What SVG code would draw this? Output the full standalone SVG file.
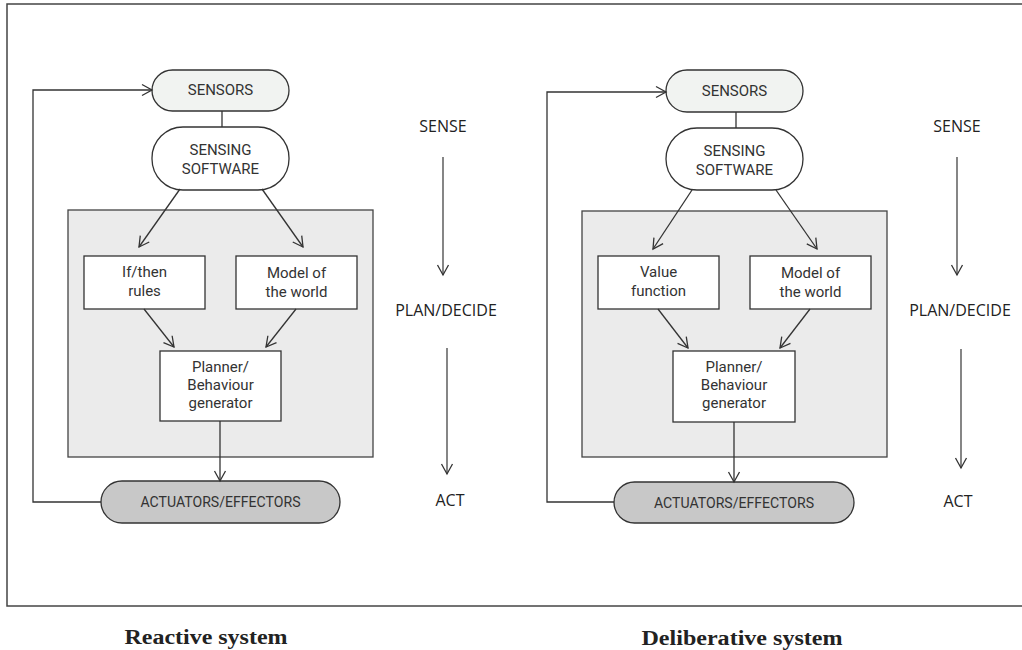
<svg xmlns="http://www.w3.org/2000/svg" width="1022" height="650" viewBox="0 0 1022 650">
<style>
.frame{fill:none;stroke:#444;stroke-width:1.5}
.panel{fill:#ebebeb;stroke:#444;stroke-width:1.3}
.box{fill:#fff;stroke:#333;stroke-width:1.3}
.sens{fill:#f1f3f1;stroke:#333;stroke-width:1.3}
.soft{fill:#fff;stroke:#333;stroke-width:1.3}
.act{fill:#c8c8c8;stroke:#333;stroke-width:1.3}
.nt{font-family:Roboto,"Liberation Sans",sans-serif;font-size:15px;fill:#333;text-anchor:middle}
.st{font-family:"Open Sans","Noto Sans",sans-serif;font-size:16px;fill:#222;text-anchor:middle}
.cap{font-family:"Liberation Serif",serif;font-size:20px;font-weight:bold;fill:#222;text-anchor:middle}
.c{fill:none;stroke:#333;stroke-width:1.3}
.s{fill:none;stroke:#444;stroke-width:1.3}
</style>
<defs>
<marker id="ah" markerUnits="userSpaceOnUse" markerWidth="14" markerHeight="14" viewBox="0 0 14 14" refX="11" refY="7" orient="auto">
<path d="M1,1.5 L11,7 L1,12.5" fill="none" stroke="#333" stroke-width="1.3"/>
</marker>
</defs>
<rect class="frame" x="7" y="4" width="1030" height="602"/>

<g id="left-panel"><rect class="panel" x="68" y="210" width="305" height="247"/></g>
<g id="left-sensors"><rect class="sens" x="152" y="70" width="137" height="41" rx="20.5"/><text class="nt" x="220.5" y="95">SENSORS</text></g>
<g id="left-software"><rect class="soft" x="152" y="127" width="137" height="63" rx="31"/><text class="nt" x="220.5" y="155">SENSING</text><text class="nt" x="220.5" y="174">SOFTWARE</text></g>
<g id="left-rules"><rect class="box" x="84" y="256" width="121" height="53"/><text class="nt" x="144.5" y="277">If/then</text><text class="nt" x="144.5" y="296">rules</text></g>
<g id="left-model"><rect class="box" x="236" y="256" width="121" height="53"/><text class="nt" x="296.5" y="278">Model of</text><text class="nt" x="296.5" y="297">the world</text></g>
<g id="left-planner"><rect class="box" x="160" y="351" width="121" height="70"/><text class="nt" x="220.5" y="372">Planner/</text><text class="nt" x="220.5" y="390">Behaviour</text><text class="nt" x="220.5" y="408">generator</text></g>
<g id="left-actuators"><rect class="act" x="101" y="481" width="239" height="42" rx="21"/><text class="nt" x="220.5" y="507" textLength="160" lengthAdjust="spacingAndGlyphs">ACTUATORS/EFFECTORS</text></g>

<g id="right-panel"><rect class="panel" x="582" y="211" width="305" height="246"/></g>
<g id="right-sensors"><rect class="sens" x="666" y="70" width="137" height="42" rx="21"/><text class="nt" x="734.5" y="96">SENSORS</text></g>
<g id="right-software"><rect class="soft" x="666" y="128" width="137" height="62" rx="31"/><text class="nt" x="734.5" y="156">SENSING</text><text class="nt" x="734.5" y="175">SOFTWARE</text></g>
<g id="right-value"><rect class="box" x="598" y="256" width="121" height="53"/><text class="nt" x="658.5" y="277">Value</text><text class="nt" x="658.5" y="296">function</text></g>
<g id="right-model"><rect class="box" x="750" y="256" width="121" height="53"/><text class="nt" x="810.5" y="278">Model of</text><text class="nt" x="810.5" y="297">the world</text></g>
<g id="right-planner"><rect class="box" x="673" y="351" width="122" height="71"/><text class="nt" x="734" y="372">Planner/</text><text class="nt" x="734" y="390">Behaviour</text><text class="nt" x="734" y="408">generator</text></g>
<g id="right-actuators"><rect class="act" x="614" y="482" width="240" height="41" rx="20.5"/><text class="nt" x="734" y="508" textLength="160" lengthAdjust="spacingAndGlyphs">ACTUATORS/EFFECTORS</text></g>

<g id="connectors">
<line class="c" x1="222" y1="111" x2="222" y2="127"/>
<line class="c" x1="180" y1="189" x2="139" y2="247" marker-end="url(#ah)"/>
<line class="c" x1="262" y1="189" x2="303" y2="247" marker-end="url(#ah)"/>
<line class="c" x1="144" y1="309" x2="174" y2="347" marker-end="url(#ah)"/>
<line class="c" x1="296" y1="309" x2="266" y2="347" marker-end="url(#ah)"/>
<line class="c" x1="220" y1="421" x2="220" y2="481" marker-end="url(#ah)"/>
<polyline class="c" points="101,502 33,502 33,90 152,90" marker-end="url(#ah)"/>

<line class="c" x1="736" y1="112" x2="736" y2="128"/>
<line class="c" x1="692" y1="190" x2="653" y2="249" marker-end="url(#ah)"/>
<line class="c" x1="776" y1="190" x2="817" y2="249" marker-end="url(#ah)"/>
<line class="c" x1="658" y1="309" x2="688" y2="348" marker-end="url(#ah)"/>
<line class="c" x1="810" y1="309" x2="780" y2="348" marker-end="url(#ah)"/>
<line class="c" x1="734" y1="422" x2="734" y2="482" marker-end="url(#ah)"/>
<polyline class="c" points="614,502 547,502 547,92 666,92" marker-end="url(#ah)"/>

<line class="s" x1="443" y1="157" x2="443" y2="275" marker-end="url(#ah)"/>
<line class="s" x1="447" y1="348" x2="447" y2="474" marker-end="url(#ah)"/>
<line class="s" x1="957" y1="157" x2="957" y2="275" marker-end="url(#ah)"/>
<line class="s" x1="961" y1="349" x2="961" y2="468" marker-end="url(#ah)"/>
</g>

<g id="stage-labels">
<text class="st" x="443" y="132">SENSE</text>
<text class="st" x="446" y="316">PLAN/DECIDE</text>
<text class="st" x="450" y="506">ACT</text>
<text class="st" x="957" y="132">SENSE</text>
<text class="st" x="960" y="316">PLAN/DECIDE</text>
<text class="st" x="958" y="507">ACT</text>
</g>

<g id="captions">
<text class="cap" x="206" y="644" textLength="163" lengthAdjust="spacingAndGlyphs">Reactive system</text>
<text class="cap" x="742" y="645" textLength="201" lengthAdjust="spacingAndGlyphs">Deliberative system</text>
</g>
</svg>
